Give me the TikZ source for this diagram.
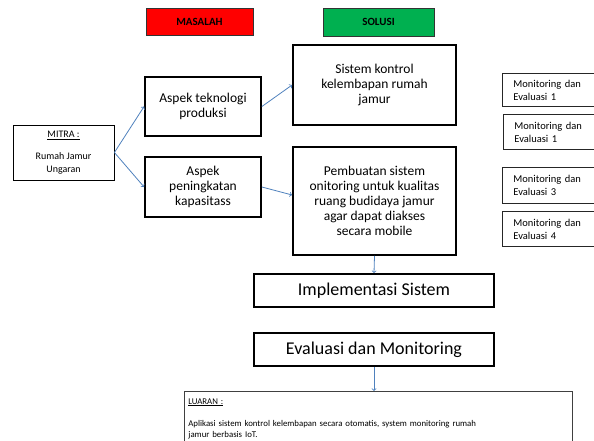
\documentclass[tikz,border=0pt]{standalone}
\usepackage{fontspec}
\setmainfont{Carlito}
\usetikzlibrary{arrows,positioning}
\definecolor{jalur}{RGB}{79,129,189}
\definecolor{merah}{RGB}{255,0,0}
\definecolor{hijau}{RGB}{0,176,80}

\begin{document}
\begin{tikzpicture}[x=1pt,y=1pt,>=to,auto,semithick]
  \tikzstyle{judul}=[draw=black!80,thin,inner sep=0pt,font=\fontsize{11}{12}\selectfont\bfseries]
  \tikzstyle{blok}=[draw=black,line width=1.8pt,align=center,inner sep=0pt,font=\fontsize{13.5}{15}\selectfont]
  \tikzstyle{kecil}=[draw=black!85,line width=0.8pt,align=left,anchor=north west,inner sep=0pt,
                     text width=90pt,minimum width=100pt,font=\fontsize{10.5}{13}\selectfont]
  \tikzstyle{besar}=[draw=black,line width=1.8pt,inner sep=0pt,minimum width=240pt,minimum height=33pt,
                     font=\fontsize{18}{20}\selectfont]
  \tikzstyle{panah}=[->,color=jalur,line width=0.8pt]
  \useasboundingbox (0,0) rectangle (594,441);

  \node[judul,fill=merah,minimum width=107pt,minimum height=27pt] (MS) at (199.5,419.5) {MASALAH};
  \node[judul,fill=hijau,minimum width=111pt,minimum height=28pt] (SL) at (378.5,419) {SOLUSI};

  \node[draw=black,line width=0.8pt,align=center,minimum width=101pt,minimum height=55pt,inner sep=0pt,
        font=\fontsize{10}{13}\selectfont] (MT) at (63.5,288.5) {\underline{MITRA :}\\[9pt]Rumah Jamur\\Ungaran};

  \node[blok,minimum width=116pt,minimum height=59pt] (AT) at (203,334.5) {Aspek teknologi\\produksi};
  \node[blok,minimum width=116pt,minimum height=60pt] (AP) at (203,254) {Aspek\\peningkatan\\kapasitass};

  \node[blok,minimum width=163pt,minimum height=80pt] (SK) at (374.5,356) {Sistem kontrol\\kelembapan rumah\\jamur};
  \node[blok,minimum width=163pt,minimum height=108pt] (PS) at (374.5,240)
       {Pembuatan sistem\\onitoring untuk kualitas\\ruang budidaya jamur\\agar dapat diakses\\secara mobile};

  \node[kecil,minimum height=33pt] (M1) at (502,368) {\hspace*{6pt}Monitoring dan\\\hspace*{6pt}Evaluasi 1};
  \node[kecil,minimum height=35pt] (M2) at (503,327) {\hspace*{6pt}Monitoring dan\\\hspace*{6pt}Evaluasi 1};
  \node[kecil,minimum height=36pt] (M3) at (502,274) {\hspace*{6pt}Monitoring dan\\\hspace*{6pt}Evaluasi 3};
  \node[kecil,minimum height=35pt] (M4) at (502,230) {\hspace*{6pt}Monitoring dan\\\hspace*{6pt}Evaluasi 4};

  \node[besar] (IS) at (374,150.5) {Implementasi Sistem};
  \node[besar] (EM) at (374,91.5) {Evaluasi dan Monitoring};

  \node[draw=black!75,line width=0.8pt,anchor=north west,align=left,text width=380pt,
        inner xsep=4pt,inner ysep=7pt,font=\fontsize{8.8}{11}\selectfont] (LU) at (184,50)
       {\underline{LUARAN :}\\[11pt]Aplikasi sistem kontrol kelembapan secara otomatis, system monitoring rumah\\jamur berbasis IoT.\\[6pt]};

  \path[panah] (MT.east) edge (AT.west)
        (MT.east) edge (AP.west)
        (AT.east) edge (SK.west)
        (AP.east) edge ([yshift=6pt]PS.west)
        (PS.south) edge (IS.north)
        (EM.south) edge (EM.south |- LU.north);
\end{tikzpicture}
\end{document}
